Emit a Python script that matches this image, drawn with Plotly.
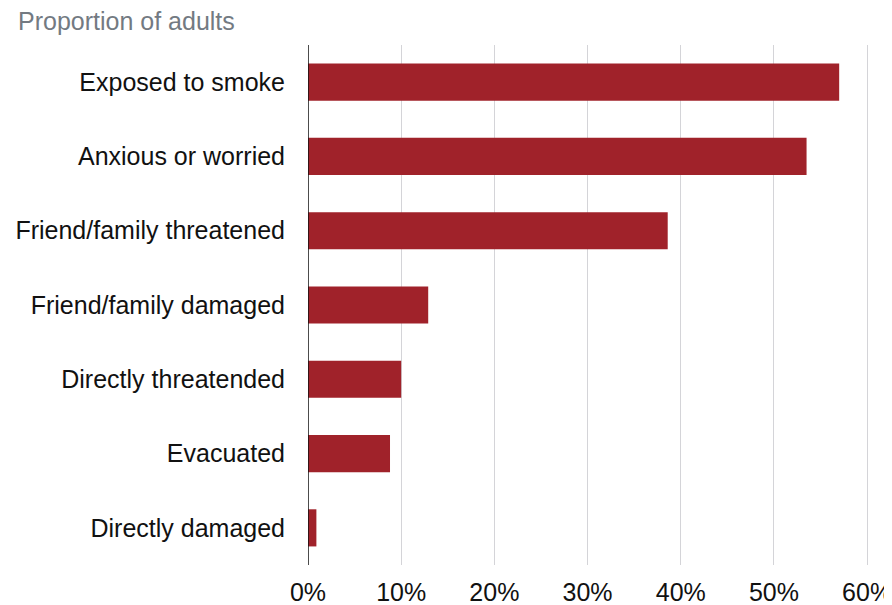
import plotly.graph_objects as go

categories = ["Exposed to smoke", "Anxious or worried", "Friend/family threatened",
              "Friend/family damaged", "Directly threatended", "Evacuated", "Directly damaged"]
values = [57.0, 53.5, 38.6, 12.9, 10.0, 8.8, 0.9]
tick_vals = [0, 10, 20, 30, 40, 50, 60]
tick_text = ["0%", "10%", "20%", "30%", "40%", "50%", "60%"]

# page body has an 8px margin, so the figure is sized to fill the rest of the window
W, H = 884, 597
L, R, T, B = 300, 23, 37, 40
pw, ph = W - L - R, H - T - B

fig = go.Figure(go.Bar(
    x=values, y=categories, orientation="h",
    marker=dict(color="#a0222a", line=dict(width=0)),
    width=0.5,
))

fig.update_layout(
    width=W, height=H,
    margin=dict(l=L, r=R, t=T, b=B, autoexpand=False),
    paper_bgcolor="white", plot_bgcolor="white",
    font=dict(family="Liberation Sans, Arial, sans-serif", size=25, color="#111111"),
    showlegend=False,
    annotations=[dict(text="Proportion of adults", x=(8 - L) / pw, y=1 + 24 / ph,
                      xref="paper", yref="paper",
                      showarrow=False, font=dict(size=25, color="#737a82"),
                      xanchor="left", yanchor="middle")],
)

fig.update_xaxes(range=[0, 60.2], tickvals=tick_vals, ticktext=tick_text,
                 showgrid=True, gridcolor="#d4d4d8", gridwidth=1, automargin=False,
                 zeroline=False, showline=False, ticks="", ticklabelstandoff=10,
                 ticklabeloverflow="allow",
                 tickfont=dict(size=25, color="#111111"))
fig.update_yaxes(categoryorder="array", categoryarray=categories[::-1], automargin=False,
                 showgrid=False, showline=False, ticks="", ticklabelstandoff=22,
                 tickfont=dict(size=25, color="#111111"))
fig.add_shape(type="line", xref="x", yref="paper", x0=0, x1=0, y0=0, y1=1,
              line=dict(color="#111111", width=1.5))

fig.write_html("out.html")
